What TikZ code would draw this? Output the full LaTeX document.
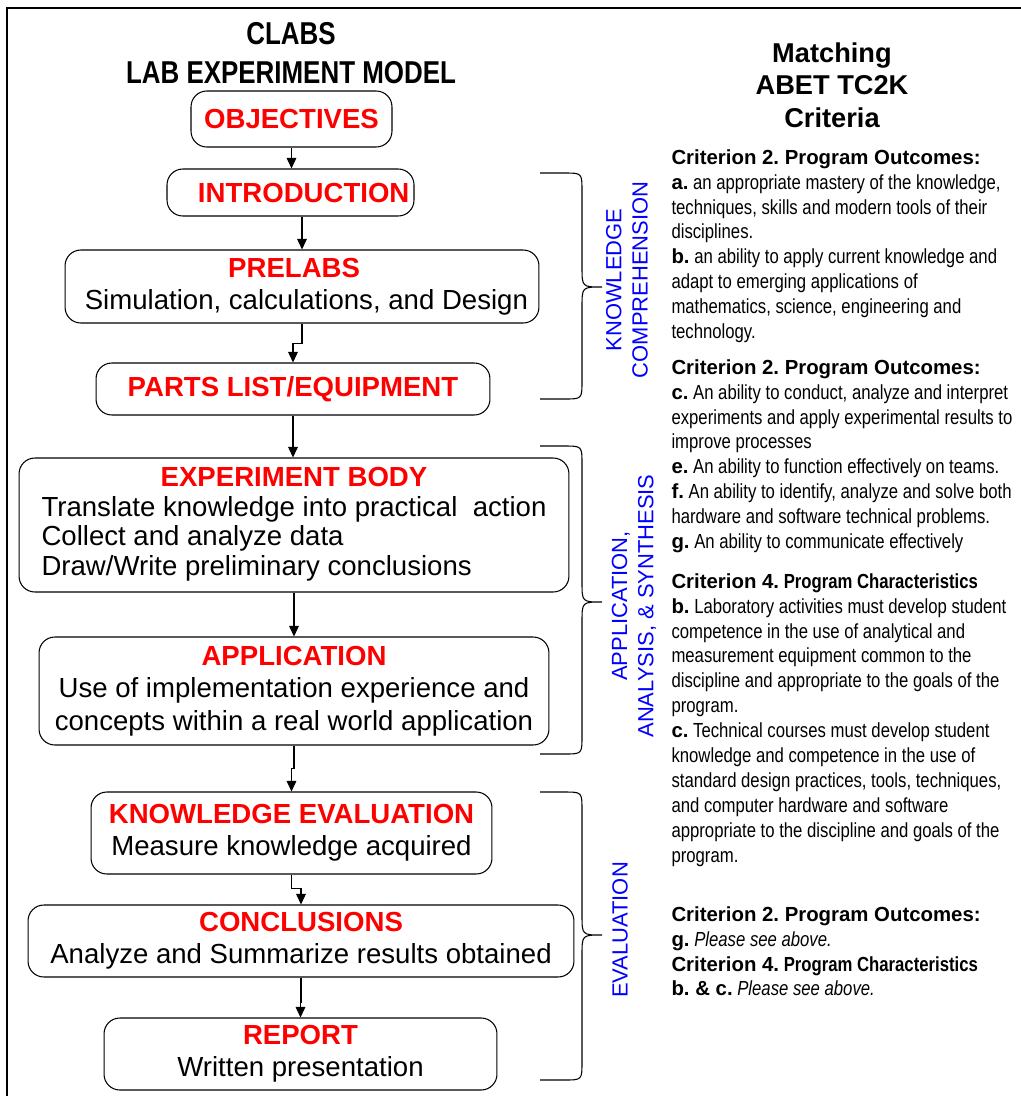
\documentclass[tikz,border=0pt]{standalone}
\usepackage{fontspec}
\setmainfont{Liberation Sans}
\newfontfamily\narrowfont[FakeStretch=0.82]{Liberation Sans}
\usepackage{xcolor}
\usetikzlibrary{arrows.meta, calc}

\newcommand{\stagename}[1]{{\color{red}\bfseries #1}}
\newcommand{\critbf}[1]{{\normalfont\bfseries #1}}
\frenchspacing

\begin{document}
\begin{tikzpicture}[x=0.02cm, y=-0.02cm, line width=0.6pt,
    >={Triangle[length=6pt, width=5.5pt]},
    stage/.style={draw, rounded corners=9pt, inner sep=0pt, align=center,
      font=\fontsize{15.7}{18.4}\selectfont},
    crit/.style={anchor=north west, inner sep=0pt, align=left,
      font=\narrowfont\fontsize{11.6}{14.17}\selectfont},
    level/.style={rotate=90, inner sep=0pt, align=center, text=blue,
      font=\fontsize{12.5}{15}\selectfont}]

  \useasboundingbox (0,0) rectangle (1021,1096);
  \draw[line width=0.8pt] (1021,8) -- (7,8) -- (7,1096);

  % left column: the lab stages
  \node[inner sep=0pt, align=center, font=\narrowfont\bfseries\fontsize{18}{22}\selectfont] (title) at (291,53)
    {CLABS\\LAB EXPERIMENT MODEL};

  \node[stage, minimum width=4.02cm, minimum height=1.12cm] (obj) at (291.5,119) {\stagename{OBJECTIVES}};
  \node[stage, minimum width=4.94cm, minimum height=0.94cm] (intro) at (290.5,192.5) {\hspace*{15pt}\stagename{INTRODUCTION}};
  \node[stage, minimum width=9.48cm, minimum height=1.46cm] (prelabs) at (302,286.5)
    {\stagename{PRELABS}\hspace*{9pt}\\\hspace*{5pt}Simulation, calculations, and Design};
  \node[stage, minimum width=7.88cm, minimum height=1.04cm] (parts) at (293,389) {\stagename{PARTS LIST/EQUIPMENT}};
  \node[stage, minimum width=11cm, minimum height=2.68cm, font=\fontsize{15.7}{17}\selectfont] (eb) at (294,525)
    {\begin{tabular}{@{}l@{}}
      \multicolumn{1}{@{}c@{}}{\stagename{EXPERIMENT BODY}}\\
      Translate knowledge into practical\ \ action\\
      Collect and analyze data\\
      Draw/Write preliminary conclusions
    \end{tabular}};
  \node[stage, minimum width=10.2cm, minimum height=2.16cm] (app) at (294,691)
    {\stagename{APPLICATION}\\Use of implementation experience and\\concepts within a real world application};
  \node[stage, minimum width=8.02cm, minimum height=1.64cm] (ke) at (291.5,833)
    {\stagename{KNOWLEDGE EVALUATION}\\Measure knowledge acquired};
  \node[stage, minimum width=10.92cm, minimum height=1.44cm] (conc) at (301,941)
    {\stagename{CONCLUSIONS}\\Analyze and Summarize results obtained};
  \node[stage, minimum width=7.86cm, minimum height=1.44cm] (report) at (300.5,1054)
    {\stagename{REPORT}\\Written presentation};

  \draw[->] (obj) -- (obj |- intro.north);
  \draw[->] (prelabs.north |- intro.south) -- (prelabs.north);
  \draw[->] (prelabs.south) -- ++(0,20) -| (parts.north);
  \draw[->] (parts.south) -- (parts.south |- eb.north);
  \draw[->] (eb.south) -- (eb.south |- app.north);
  \draw[->] (app.south) -- ++(0,23) -| (ke.north);
  \draw[->] (ke.south) -- ++(0,14) -| (conc.north);
  \draw[->] (conc.south) -- ++(0,25) -| (report.north);

  % braces and learning levels
  \draw (540,173) -- (564,173) .. controls (582,173) .. (582,191) -- (582,267)
    .. controls (582,287) .. (602,287) .. controls (582,287) .. (582,307)
    -- (582,381) .. controls (582,399) .. (564,399) -- (540,399);
  \draw (540,446) -- (564,446) .. controls (582,446) .. (582,464) -- (582,582)
    .. controls (582,602) .. (602,602) .. controls (582,602) .. (582,622)
    -- (582,736) .. controls (582,754) .. (564,754) -- (540,754);
  \draw (540,792) -- (564,792) .. controls (582,792) .. (582,810) -- (582,915)
    .. controls (582,935) .. (602,935) .. controls (582,935) .. (582,955)
    -- (582,1062) .. controls (582,1080) .. (564,1080) -- (540,1080);

  \node[level] (knowlvl) at (627,280) {KNOWLEDGE\\COMPREHENSION};
  \node[level] (applvl) at (634,606) {APPLICATION,\\ANALYSIS, \& SYNTHESIS};
  \node[level] (evallvl) at (620,930) {EVALUATION};

  % right column: ABET criteria
  \node[inner sep=0pt, align=center, font=\bfseries\fontsize{15.5}{18.4}\selectfont] (abet) at (832,85)
    {Matching\\ABET TC2K\\Criteria};

  \node[crit] (outAB) at (671,149)
    {\critbf{Criterion 2. Program Outcomes:}\\
     \critbf{a.} an appropriate mastery of the knowledge,\\
     techniques, skills and modern tools of their\\
     disciplines.\\
     \critbf{b.} an ability to apply current knowledge and\\
     adapt to emerging applications of\\
     mathematics, science, engineering and\\
     technology.};
  \node[crit] (outCG) at (671,359)
    {\critbf{Criterion 2. Program Outcomes:}\\
     \critbf{c.} An ability to conduct, analyze and interpret\\
     experiments and apply experimental results to\\
     improve processes\\
     \critbf{e.} An ability to function effectively on teams.\\
     \critbf{f.} An ability to identify, analyze and solve both\\
     hardware and software technical problems.\\
     \critbf{g.} An ability to communicate effectively};
  \node[crit] (charBC) at (671,573)
    {\critbf{Criterion 4.} {\bfseries Program Characteristics}\\
     \critbf{b.} Laboratory activities must develop student\\
     competence in the use of analytical and\\
     measurement equipment common to the\\
     discipline and appropriate to the goals of the\\
     program.\\
     \critbf{c.} Technical courses must develop student\\
     knowledge and competence in the use of\\
     standard design practices, tools, techniques,\\
     and computer hardware and software\\
     appropriate to the discipline and goals of the\\
     program.};
  \node[crit] (evalcrit) at (671,906)
    {\critbf{Criterion 2. Program Outcomes:}\\
     \critbf{g.} \textit{Please see above.}\\
     \critbf{Criterion 4.} {\bfseries Program Characteristics}\\
     \critbf{b. \& c.} \textit{Please see above.}};

\end{tikzpicture}
\end{document}
